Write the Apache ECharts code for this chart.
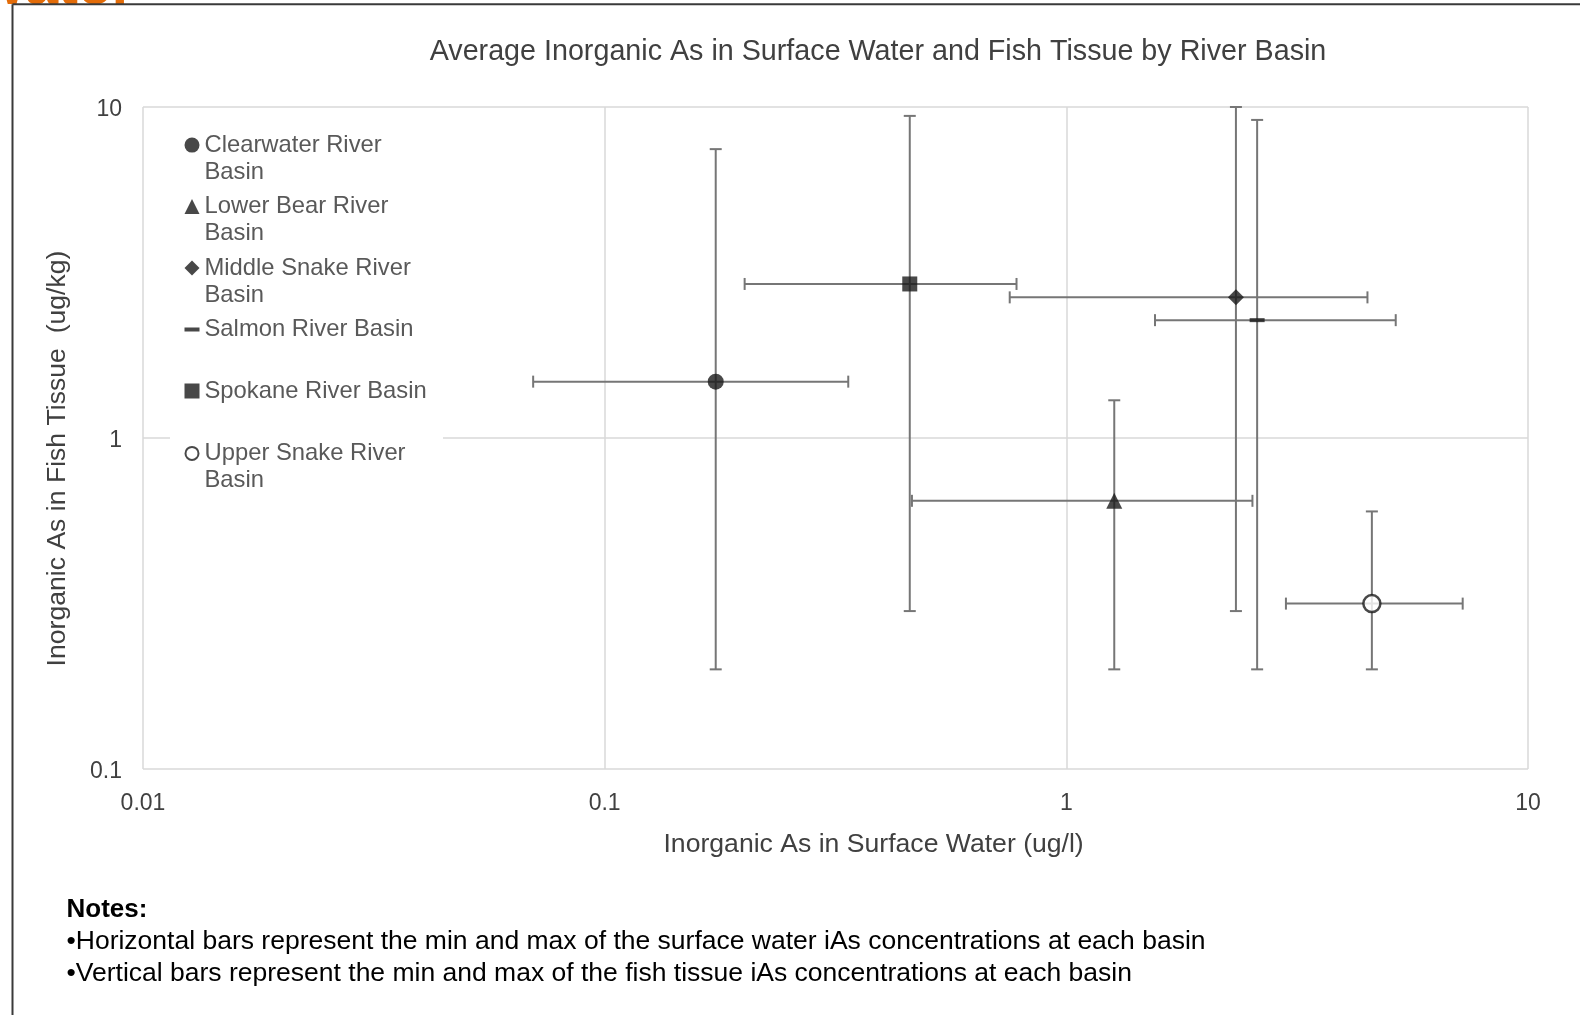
<!DOCTYPE html>
<html><head><meta charset="utf-8">
<script src="https://cdn.jsdelivr.net/npm/echarts@6/dist/echarts.min.js"></script>
<style>html,body{margin:0;padding:0;background:#fff}#c{width:1580px;height:1015px}</style>
</head><body><div id="c"></div>
<script>
// ---- data ----
const basins = ['Clearwater River Basin', 'Lower Bear River Basin', 'Middle Snake River Basin', 'Salmon River Basin', 'Spokane River Basin', 'Upper Snake River Basin'];
const legendLabels = ['Clearwater River\nBasin', 'Lower Bear River\nBasin', 'Middle Snake River\nBasin', 'Salmon River Basin', 'Spokane River Basin', 'Upper Snake River\nBasin'];
const waterAvg = [0.174, 1.27, 2.33, 2.59, 0.458, 4.59];
const waterMin = [0.070, 0.463, 0.754, 1.556, 0.201, 2.99];
const waterMax = [0.337, 2.53, 4.49, 5.17, 0.78, 7.22];
const fishAvg = [1.48, 0.646, 2.66, 2.27, 2.92, 0.316];
const fishMin = [0.20, 0.20, 0.30, 0.20, 0.30, 0.20];
const fishMax = [7.46, 1.30, 10.0, 9.14, 9.40, 0.60];
const xTickLabels = ['0.01', '0.1', '1', '10'];
const yTickLabels = ['0.1', '1', '10'];
const titleText = 'Average Inorganic As in Surface Water and Fish Tissue by River Basin';
const xTitle = 'Inorganic As in Surface Water (ug/l)';
const yTitle = 'Inorganic As in Fish Tissue  (ug/kg)';
const notesTitle = 'Notes:';
const notesLines = ['\u2022Horizontal bars represent the min and max of the surface water iAs concentrations at each basin',
                    '\u2022Vertical bars represent the min and max of the fish tissue iAs concentrations at each basin'];

// ---- styles / layout ----
const FF = '"Liberation Sans", Arial, sans-serif';
const MARK = '#1a1a1a';
const symbols = ['circle', 'triangle', 'diamond', 'rect', 'rect', 'circle'];
const symSizes = [16, 16, 16, [15, 4], 15, 17];
const legendCenters = [145.1, 206.6, 268.0, 329.5, 391.0, 453.4];
const LH = 27.2;

const chart = echarts.init(document.getElementById('c'), null, {renderer: 'canvas'});

const errData = basins.map((b, i) => [waterAvg[i], fishAvg[i], waterMin[i], waterMax[i], fishMin[i], fishMax[i]]);

function renderErr(params, api) {
  const x = api.value(0), y = api.value(1);
  const pL = api.coord([api.value(2), y]), pR = api.coord([api.value(3), y]);
  const pB = api.coord([x, api.value(4)]), pT = api.coord([x, api.value(5)]);
  const cap = 6;
  const st = {stroke: '#767676', lineWidth: 2};
  const ln = (a, b, c, d) => ({type: 'line', shape: {x1: a, y1: b, x2: c, y2: d}, style: st});
  return {type: 'group', children: [
    ln(pL[0], pL[1], pR[0], pR[1]),
    ln(pL[0], pL[1] - cap, pL[0], pL[1] + cap),
    ln(pR[0], pR[1] - cap, pR[0], pR[1] + cap),
    ln(pB[0], pB[1], pT[0], pT[1]),
    ln(pB[0] - cap, pB[1], pB[0] + cap, pB[1]),
    ln(pT[0] - cap, pT[1], pT[0] + cap, pT[1])
  ]};
}

const series = [{
  type: 'custom', name: 'err', renderItem: renderErr, data: errData,
  encode: {x: 0, y: 1}, clip: false, silent: true, z: 2
}];
basins.forEach((b, i) => {
  const hollow = i === 5;
  series.push({
    type: 'scatter', name: b, data: [[waterAvg[i], fishAvg[i]]],
    symbol: symbols[i], symbolSize: symSizes[i], z: 3,
    itemStyle: hollow ? {color: '#ffffff', borderColor: MARK, borderWidth: 2.5} : {color: MARK}
  });
});

const legends = basins.map((b, i) => {
  const two = legendLabels[i].indexOf('\n') >= 0;
  const ih = i === 3 ? 4 : (i === 5 ? 13 : 15);
  const item = {name: b, icon: symbols[i]};
  if (i === 5) item.itemStyle = {color: '#ffffff', borderColor: MARK, borderWidth: 2};
  else item.itemStyle = {color: MARK};
  return {
    data: [item], left: 184.5, top: legendCenters[i] - (two ? 1.5 * LH : LH / 2),
    orient: 'vertical', padding: 0, itemWidth: 15, itemHeight: ih, itemGap: 0,
    selectedMode: false,
    formatter: () => (two ? '\n' : '') + legendLabels[i],
    textStyle: {fontFamily: FF, fontSize: 23.8, color: '#595959', lineHeight: LH}
  };
});

const option = {
  backgroundColor: '#ffffff',
  animation: false,
  grid: {left: 143, right: 52, top: 107, bottom: 246, containLabel: false},
  xAxis: {
    type: 'log', logBase: 10, min: 0.01, max: 10,
    axisLine: {show: false}, axisTick: {show: false},
    splitLine: {show: true, lineStyle: {color: '#d9d9d9', width: 1.5}},
    axisLabel: {fontFamily: FF, fontSize: 23, color: '#404040', margin: 23,
      formatter: v => xTickLabels[Math.round(Math.log10(v)) + 2]}
  },
  yAxis: {
    type: 'log', logBase: 10, min: 0.1, max: 10,
    axisLine: {show: false}, axisTick: {show: false},
    splitLine: {show: true, lineStyle: {color: '#d9d9d9', width: 1.5}},
    axisLabel: {fontFamily: FF, fontSize: 23, color: '#404040', margin: 21,
      formatter: v => '{v|' + yTickLabels[Math.round(Math.log10(v)) + 1] + '}',
      rich: {v: {fontFamily: FF, fontSize: 23, color: '#404040', padding: [6, 0, 0, 0]}}}
  },
  legend: legends,
  graphic: [
    {type: 'rect', z: 1, shape: {x: 170, y: 118, width: 273, height: 375}, style: {fill: '#ffffff'}},
    {type: 'text', z: 5, x: 878, y: 52.4, style: {text: titleText, font: '28.7px ' + FF, fill: '#404040', align: 'center', verticalAlign: 'middle'}},
    {type: 'text', z: 5, x: 873.6, y: 844.4, style: {text: xTitle, font: '26.6px ' + FF, fill: '#404040', align: 'center', verticalAlign: 'middle'}},
    {type: 'text', z: 5, x: 57.4, y: 458.5, rotation: Math.PI / 2, style: {text: yTitle, font: '26.6px ' + FF, fill: '#404040', align: 'center', verticalAlign: 'middle'}},
    {type: 'text', z: 5, x: 66.5, y: 910, style: {text: notesTitle, font: 'bold 26px ' + FF, fill: '#000000', align: 'left', verticalAlign: 'middle'}},
    {type: 'text', z: 5, x: 66.5, y: 942, style: {text: notesLines[0], font: '26.5px ' + FF, fill: '#000000', align: 'left', verticalAlign: 'middle'}},
    {type: 'text', z: 5, x: 66.5, y: 974, style: {text: notesLines[1], font: '26.5px ' + FF, fill: '#000000', align: 'left', verticalAlign: 'middle'}},
    {type: 'text', z: 5, x: -22, y: -13, style: {text: 'water', font: 'bold 60px ' + FF, fill: '#e36c09', align: 'left', verticalAlign: 'middle'}},
    {type: 'line', z: 6, shape: {x1: 12.5, y1: 4.3, x2: 1580, y2: 4.3}, style: {stroke: '#3a3a3a', lineWidth: 2}},
    {type: 'line', z: 6, shape: {x1: 12.5, y1: 4.3, x2: 12.5, y2: 1015}, style: {stroke: '#3a3a3a', lineWidth: 2}}
  ],
  series: series
};
chart.setOption(option);
</script></body></html>
